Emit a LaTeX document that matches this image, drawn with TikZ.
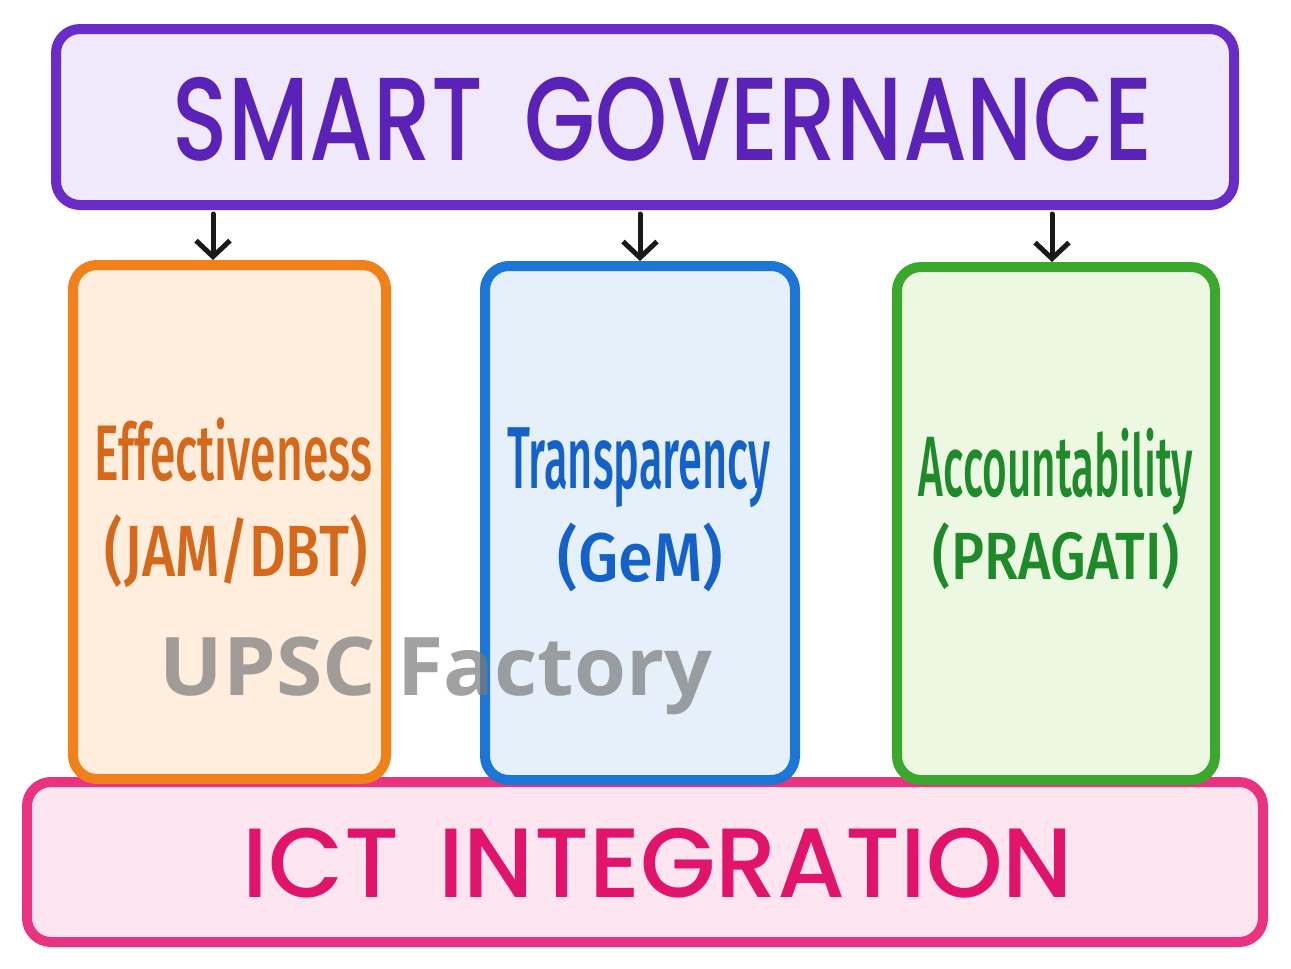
\documentclass[tikz,border=0pt]{standalone}
\usepackage{fontspec}
\usetikzlibrary{arrows.meta}
\newfontfamily\capsfont{Poppins Medium}
\newfontfamily\handfont{Fira Sans Medium}
\newfontfamily\wmfont{Open Sans}
\definecolor{purS}{HTML}{6A2CC6}
\definecolor{purF}{HTML}{F0E8FB}
\definecolor{purT}{HTML}{5B22B8}
\definecolor{oraS}{HTML}{F0801A}
\definecolor{oraF}{HTML}{FFEEDD}
\definecolor{oraT}{HTML}{D4691C}
\definecolor{bluS}{HTML}{1C76D6}
\definecolor{bluF}{HTML}{E5F0FB}
\definecolor{bluT}{HTML}{1462C8}
\definecolor{grnS}{HTML}{3AA82C}
\definecolor{grnF}{HTML}{ECF8E2}
\definecolor{grnT}{HTML}{1F8A2A}
\definecolor{pnkS}{HTML}{EA3380}
\definecolor{pnkF}{HTML}{FDE5F0}
\definecolor{pnkT}{HTML}{E0146B}
\definecolor{wmG}{HTML}{7A7A7A}
\begin{document}
\begin{tikzpicture}[x=1pt,y=-1pt,
  box/.style={draw, line width=10pt, rounded corners=24pt, inner sep=0pt},
  txt/.style={inner sep=0pt, anchor=center},
  arr/.style={draw=black!90, line width=5pt, line cap=round, -{Straight Barb[length=16pt,width=34pt,line width=5pt]}}]
\useasboundingbox (0,0) rectangle (1291,969);
\fill[white] (0,0) rectangle (1291,969);
% bottom bar
\node[box, draw=pnkS, fill=pnkF, minimum width=1236pt, minimum height=160pt] (ict) at (645,862) {};
% pillars
\node[box, draw=oraS, fill=oraF, minimum width=313pt, minimum height=514pt] (eff) at (229.5,522) {};
\node[box, draw=bluS, fill=bluF, minimum width=310pt, minimum height=514pt] (tra) at (640,523) {};
\node[box, draw=grnS, fill=grnF, minimum width=318pt, minimum height=513pt] (acc) at (1056,523.5) {};
% top bar
\node[box, draw=purS, fill=purF, minimum width=1178pt, minimum height=176pt] (sg) at (645,117) {};
% arrows
\draw[arr, shorten <=4pt] ([xshift=-16.5pt]sg.south -| eff.north) -- ([xshift=-16.5pt]eff.north);
\draw[arr, shorten <=4pt] (sg.south -| tra.north) -- (tra.north);
\draw[arr, shorten <=4pt] ([xshift=-4pt]sg.south -| acc.north) -- ([xshift=-4pt]acc.north);
% texts
\node[txt, text=purT] (sgt) at (662.5,119.5) {\resizebox*{979pt}{84pt}{\capsfont SMART\hspace{0.45em}GOVERNANCE}};
\node[txt, text=pnkT] (ictt) at (658,863) {\resizebox*{830pt}{70pt}{\capsfont ICT\hspace{0.4em}INTEGRATION}};
\node[txt, text=oraT] (efft) at (233.5,450) {\resizebox*{277pt}{64pt}{\handfont Effectiveness}};
\node[txt, text=oraT] (effs) at (236.5,551.5) {\resizebox*{263pt}{73pt}{\handfont (JAM/DBT)}};
\node[txt, text=bluT] (trat) at (638.5,468) {\resizebox*{263pt}{80pt}{\handfont Transparency}};
\node[txt, text=bluT] (tras) at (640.5,557.5) {\resizebox*{165pt}{69pt}{\handfont (GeM)}};
\node[txt, text=grnT] (acct) at (1056,471.5) {\resizebox*{274pt}{87pt}{\handfont Accountability}};
\node[txt, text=grnT] (accs) at (1056.5,556.5) {\resizebox*{247pt}{67pt}{\handfont (PRAGATI)}};
% watermark
\node[txt, text=wmG, opacity=0.7] (wm) at (436,676) {\resizebox*{552pt}{78pt}{\wmfont\bfseries UPSC Factory}};
\end{tikzpicture}
\end{document}
